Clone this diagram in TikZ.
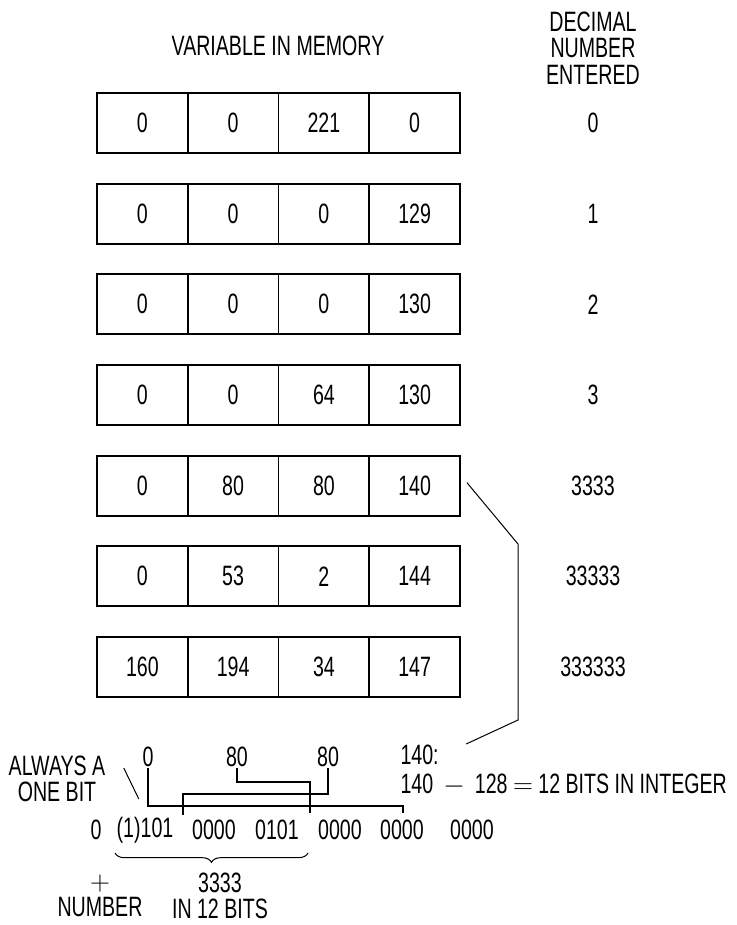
\documentclass[tikz,border=0pt]{standalone}
\usepackage{fontspec}
\setmainfont{Liberation Sans}[FakeStretch=0.7]
\usetikzlibrary{decorations.pathreplacing}

\tikzset{every picture/.style={line width=0.75pt}}
\tikzset{
  cell/.style={draw, line width=1.3pt, minimum width=68.06pt, minimum height=45pt, inner sep=0pt, outer sep=0pt},
  txt/.style={inner sep=0.75pt},
  bitline/.style={line width=1.1pt},
}

\begin{document}
\begin{tikzpicture}[x=0.75pt,y=0.75pt,yscale=-1,xscale=1,
    every node/.style={font=\fontsize{21}{20}\selectfont}]
        %set diagram to the size of the page
        \useasboundingbox (0,0) rectangle (736,925);

        % Text Node
        \node[txt] (varmem) at (278,46) {VARIABLE IN MEMORY};
        % Text Node
        \node[txt, align=center] (decnum) at (593,48) {DECIMAL\\NUMBER\\ENTERED};

        %Rows of the variable, one row for each number entered
        \foreach \r/\a/\b/\c/\d/\n in {1/0/0/221/0/0, 2/0/0/0/129/1, 3/0/0/0/130/2, 4/0/0/64/130/3,
            5/0/80/80/140/3333, 6/0/53/2/144/33333, 7/160/194/34/147/333333}{
            \node[cell] (r\r c1) at (142.4,{32.33+90.67*\r}) {\a};
            \node[cell] (r\r c2) at (233.1,{32.33+90.67*\r}) {\b};
            \node[cell] (r\r c3) at (323.9,{32.33+90.67*\r}) {\c};
            \node[cell] (r\r c4) at (414.6,{32.33+90.67*\r}) {\d};
            % Text Node
            \node[txt] (dec\r) at (593,{32.33+90.67*\r}) {\n};
        }

        % Text Node
        \node[txt] (top0) at (148,757) {0};
        % Text Node
        \node[txt] (top80a) at (237,757) {80};
        % Text Node
        \node[txt] (top80b) at (328,757) {80};
        % Text Node
        \node[txt, anchor=west] (lbl140) at (399,755) {140:};
        % Text Node
        \node[txt, anchor=west] (lblbits) at (399,785) {140 \,$-$\, 128 $=$ 12 BITS IN INTEGER};
        % Text Node
        \node[txt, align=center] (always) at (57,779) {ALWAYS A\\ONE BIT};

        % Text Node
        \node[txt] (bit0) at (96,830) {0};
        \node[txt] (bit1) at (145,830) {(1)101};
        \node[txt] (bit2) at (214,830) {0000};
        \node[txt] (bit3) at (277,830) {0101};
        \node[txt] (bit4) at (340,830) {0000};
        \node[txt] (bit5) at (402,830) {0000};
        \node[txt] (bit6) at (472,830) {0000};

        % Text Node
        \node[txt, align=center] (number) at (100,896) {$+$\\NUMBER};
        % Text Node
        \node[txt, align=center] (in12) at (220,896) {3333\\IN 12 BITS};

        %Pointer from 140 down to the worked example
        \coordinate (bend1) at (518,544);
        \coordinate (bend2) at (518,720);
        \draw ([shift={(7,-3)}]r5c4.east) -- (bend1) -- (bend2) -- ([shift={(26,-11)}]lbl140.east);

        %Brackets from the bytes to the bits
        \coordinate (tick1) at (403,806);
        \coordinate (tick2) at (183,794);
        \coordinate (tick3) at (310,782);
        \draw[bitline] (top0.south) |- (tick1) -- ++(0,7);
        \draw[bitline] (top80b.south) |- (tick2) -- ++(0,21);
        \draw[bitline] (top80a.south) |- (tick3) -- ++(0,31);

        %Straight Lines
        \draw ([shift={(17,-11)}]always.east) -- ++(15,31);

        %Brace under the 12 bits
        \coordinate (braceL) at (115,853);
        \coordinate (braceR) at (308,853);
        \draw[decorate, decoration={brace, mirror, amplitude=7pt}] (braceL) -- (braceR);

    \end{tikzpicture}
\end{document}
